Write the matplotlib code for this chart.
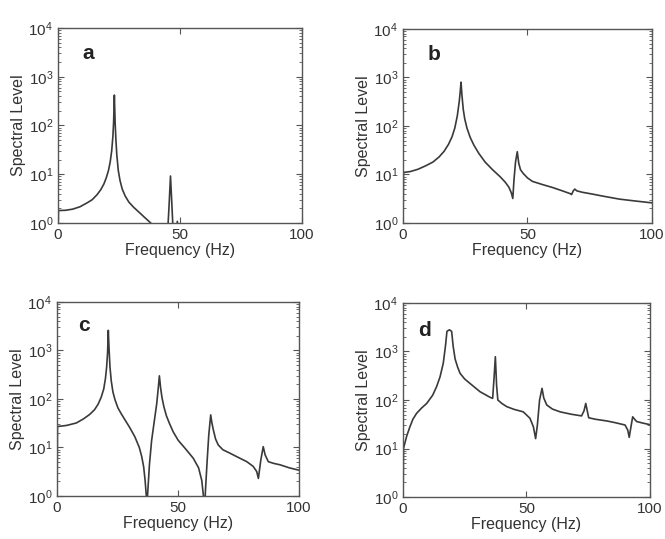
import matplotlib
matplotlib.use("Agg")
import matplotlib.pyplot as plt
from matplotlib.ticker import LogLocator, NullFormatter

# Spectra (frequency in Hz, spectral level)
freq_a = [0, 0.2, 3, 6, 9, 12, 14, 16, 17.5, 18.8, 19.8, 20.7, 21.4, 22.0, 22.5, 22.8,
          23.1, 23.4, 23.7, 24.1, 24.7, 25.4, 26.3, 27.5, 29, 31, 33, 35.5, 38, 40,
          44.8, 45.5, 46.1, 46.7, 47.3, 48.3, 48.9, 49.4, 52, 100]
level_a = [0.5, 1.8, 1.82, 1.92, 2.15, 2.6, 3.0, 3.8, 4.8, 6.3, 8.5, 12, 18, 30, 60, 120,
           420, 120, 55, 25, 12, 7.5, 5.0, 3.6, 2.7, 2.1, 1.7, 1.3, 1.0, 0.8,
           0.5, 2.2, 9.2, 2.2, 0.5, 0.6, 1.08, 0.6, 0.4, 0.3]

freq_b = [0, 0.2, 3, 6, 9, 12, 14.5, 16.5, 18.3, 19.7, 20.8, 21.8, 22.6, 23.0, 23.3,
          23.7, 24.2, 24.8, 25.7, 27, 28.5, 30.5, 33, 36, 39, 41, 42.5, 43.5, 44.1,
          44.6, 45.2, 45.9, 46.5, 47.2, 48.3, 50, 52, 56, 60, 64, 67.3, 67.7, 68.4,
          69.0, 69.8, 72, 76, 80, 87, 93, 100]
level_b = [0.5, 11, 11.5, 12.8, 15, 18, 23, 30, 42, 60, 90, 160, 320, 520, 800,
           420, 220, 140, 90, 58, 40, 27, 18, 12.5, 9, 7, 5.5, 4.2, 3.2,
           8, 18, 29.5, 17, 12.5, 10.5, 8.5, 7.2, 6.2, 5.4, 4.6, 4.0, 3.85, 4.6,
           5.0, 4.6, 4.3, 3.95, 3.6, 3.1, 2.85, 2.6]

freq_c = [0, 0.2, 4, 8, 11, 13.5, 15.5, 17, 18.3, 19.3, 20.0, 20.5, 20.9, 21.2, 21.5,
          21.9, 22.4, 23.1, 24, 25.2, 26.5, 28.1, 30, 32.2, 34, 35, 35.8, 36.4, 36.9,
          37.1, 37.4, 38.2, 39.1, 40.3, 41.2, 41.8, 42.3, 42.8, 43.4, 44.2, 45.2, 46.5,
          48, 50.1, 53, 56.3, 58.5, 59.8, 60.5, 60.9, 61.3, 62.0, 62.7, 63.5, 64.0,
          64.6, 65.5, 66.6, 68.5, 71.5, 75, 78.4, 81, 82.5, 83.2, 84.2, 85.2, 86.0,
          87.3, 89.5, 92.1, 96, 100]
level_c = [0.5, 27, 28.5, 32, 39, 48, 60, 78, 110, 160, 260, 450, 900, 2600, 1100,
           450, 240, 140, 95, 65, 50, 37, 26, 16.5, 10, 6.5, 4, 2.1, 1.0,
           0.3, 1.0, 4.5, 14, 38, 80, 160, 300, 170, 105, 68, 45, 31,
           21, 14, 9.5, 6, 3.8, 2.1, 1.0, 0.3, 1.2, 5, 18, 47, 32,
           23, 15, 11.3, 9, 7.6, 6.2, 5.1, 4.1, 3.2, 2.3, 5.5, 10.4, 7,
           5.1, 4.7, 4.4, 3.8, 3.4]

freq_d = [0, 0.2, 1.5, 2.8, 4, 5.5, 7.5, 9.6, 12, 13.6, 15, 16.3, 17.2, 17.8, 18.8,
          19.7, 20.3, 21.1, 22.1, 23.1, 25, 27.1, 31.2, 35.2, 36.3, 36.9, 37.4, 37.9,
          38.4, 40, 42, 45, 48.7, 51.4, 52.8, 53.7, 54.4, 55.3, 56.3, 57.0, 58.2, 60.5,
          63.6, 68, 72.3, 73.3, 74.0, 74.6, 75.2, 78, 82.5, 86, 89.9, 91.0, 91.6, 92.3,
          93.0, 93.8, 94.6, 97, 100]
level_d = [0.5, 10, 18, 28, 40, 53, 68, 85, 125, 188, 300, 570, 1300, 2600, 2800,
           2600, 1300, 700, 480, 355, 270, 220, 148, 114, 108, 300, 780, 200,
           100, 85, 73, 64, 57, 42, 28, 16, 30, 100, 174, 110, 79, 65,
           57, 51, 47, 60, 85, 60, 43, 40, 37, 34, 30.5, 24, 17, 28,
           45, 40, 36, 33.5, 31]

panel_labels = ["a", "b", "c", "d"]
x_ticks = [0, 50, 100]
y_limits = (1, 1e4)

plt.rcParams["font.family"] = ["Liberation Sans", "DejaVu Sans"]
plt.rcParams["mathtext.default"] = "regular"

fig = plt.figure(figsize=(6.65, 5.39), dpi=100)

rects = [
    (0.0872, 0.5863, 0.367, 0.3618),
    (0.606, 0.5863, 0.3744, 0.360),
    (0.0857, 0.0798, 0.364, 0.360),
    (0.606, 0.0779, 0.3714, 0.360),
]
label_pos = [(0.10, 0.87), (0.10, 0.87), (0.087, 0.88), (0.06, 0.86)]
series = [(freq_a, level_a), (freq_b, level_b), (freq_c, level_c), (freq_d, level_d)]

ink = "#3a3a3a"
for rect, (fx, fy), letter, (lx, ly) in zip(rects, series, panel_labels, label_pos):
    ax = fig.add_axes(rect)
    ax.plot(fx, fy, color=ink, lw=1.2)
    ax.set_yscale("log")
    ax.set_xlim(0, 100)
    ax.set_ylim(*y_limits)
    ax.set_xticks(x_ticks)
    ax.yaxis.set_minor_locator(LogLocator(base=10, subs=range(2, 10), numticks=20))
    ax.yaxis.set_minor_formatter(NullFormatter())
    ax.set_xlabel("Frequency (Hz)", fontsize=11.5, color="#333333", labelpad=1)
    ax.set_ylabel("Spectral Level", fontsize=11.5, color="#333333", labelpad=2)
    ax.tick_params(which="both", direction="in", top=True, right=True,
                   colors="#555555", labelcolor="#333333", labelsize=11)
    ax.tick_params(which="major", length=4)
    ax.tick_params(which="minor", length=2)
    for sp in ax.spines.values():
        sp.set_color("#555555")
        sp.set_linewidth(1.0)
    ax.text(lx, ly, letter, transform=ax.transAxes, fontsize=15,
            fontweight="bold", color="#222222", ha="left", va="center")

fig.savefig("out.png", dpi=100, facecolor="white")
